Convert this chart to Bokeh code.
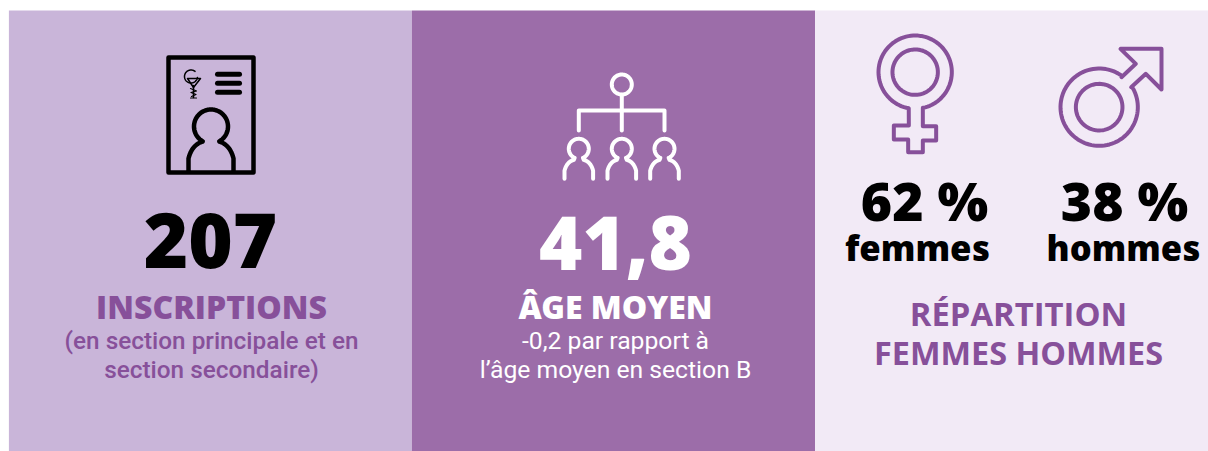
import numpy as np
from bokeh.plotting import figure
from bokeh.models import Range1d
from bokeh.core.properties import value
from bokeh.embed import file_html
from bokeh.resources import INLINE

BG = ["#C9B5D9", "#9C6DA9", "#F2EAF6"]
PURPLE = "#87509A"
HEAD = "Open Sans ExtraBold"
SUBHEAD = "Open Sans ExtraBold"
BODY = "Roboto Medium"

panel_left = [8.4, 411.4, 814.6]
panel_right = [411.4, 814.6, 1208]

big_values = ["207", "41,8"]
pct_values = ["62 %", "38 %"]
pct_labels = ["femmes", "hommes"]

p = figure(width=1208, height=451, output_backend="svg", toolbar_location=None,
           x_range=Range1d(0, 1208), y_range=Range1d(451, 0), min_border=0,
           background_fill_color="white", border_fill_color="white", outline_line_color=None)
p.axis.visible = False
p.grid.visible = False
p.quad(left=panel_left, right=panel_right, top=10, bottom=451, fill_color=BG, line_color=None)

def txt(x, y, s, size, color, font=BODY, bold=False):
    p.text([x], [y - 0.37*size], text=[s], text_font=value(font), text_font_size=f"{size}px",
           text_font_style="bold" if bold else "normal", text_color=color,
           text_align="center", text_baseline="alphabetic")

def path(xs, ys, color, w):
    p.line(list(xs), list(ys), line_color=color, line_width=w, line_cap="round", line_join="round")

def ring(cx, cy, r, color, w, a0=0.0, a1=2*np.pi):
    t = np.linspace(a0, a1, 90)
    path(cx + r*np.cos(t), cy + r*np.sin(t), color, w)

def person(cx, cy, r, nx, ny, sx, sy, by, color, w):
    a = np.arctan2(ny, nx)
    t = np.linspace(a, np.pi*3 - a, 70)
    hx = cx + r*np.cos(t); hy = cy + r*np.sin(t)
    u = np.linspace(0, 1, 20)
    qx = (1-u)**2*nx + 2*u*(1-u)*sx*0.85 + u*u*sx
    qy = (1-u)**2*ny + 2*u*(1-u)*(ny+(sy-ny)*0.2) + u*u*sy
    xs = np.r_[cx + sx, cx + qx[::-1], hx, cx - qx, cx - sx]
    ys = np.r_[cy + by, cy + qy[::-1], hy, cy + qy, cy + by]
    path(xs, ys, color, w)

# Panel 1 icon
K = "#000000"
path([168, 253, 253, 168, 168], [57, 57, 172, 172, 57], K, 4.5)
for yy in [73.7, 82.7, 91.7]:
    path([217, 239], [yy, yy], K, 5)
person(210.5, 126, 17, -8.3, 15, -22.5, 32, 45, K, 4.5)
# caduceus
ring(190.5, 76, 6.5, K, 1.5, 0.15, 2*np.pi-0.9)
path([187, 200, 193, 187], [78, 78, 87, 78], K, 1.5)
path([193, 193], [85, 97], K, 1.5)
path([190, 196, 190.5, 195.5, 191], [88, 90.5, 92, 94, 96], K, 1.2)
path([190, 196], [97.5, 97.5], K, 1.2)

# Panel 2 icon
W = "#FFFFFF"
ring(621.3, 84, 10, W, 4)
path([621.3, 621.3], [94.3, 130], W, 4)
path([578.3, 578.3, 664, 664], [130, 110, 110, 130], W, 4)
for cx in [578.3, 621.3, 664]:
    person(cx, 148.3, 10, -5, 11, -14.3, 22, 30, W, 4)

# Female icon
def zf(x, y): return 860 + np.array(x)/3, 20 + np.array(y)/3
cxf, cyf = zf(164, 155)
ring(cxf, cyf, 22.7, PURPLE, 4)
t = np.linspace(np.arctan2(107, 23), np.arctan2(107, -19) - 2*np.pi, 90)
ox = 164 + 110*np.cos(t); oy = 155 + 110*np.sin(t)
fx = np.r_[ox, [145,100,100,143,143,187,187,227,227,187,187]]
fy = np.r_[oy, [315,315,357,357,395,395,360,360,317,317,262]]
X, Y = zf(fx, fy)
path(X, Y, PURPLE, 4)

# Male icon
cxm, cym = zf(716, 260)
ring(cxm, cym, 23.3, PURPLE, 4)
a0 = np.arctan2(200-260, 812-716)
a1 = np.arctan2(170-260, 783-716) + 2*np.pi
t = np.linspace(a0, a1, 90)
mx = np.r_[716 + 116*np.cos(t), [783,826,780,903,903,856,812]]
my = np.r_[260 + 116*np.sin(t), [170,130,85,85,207,160,200]]
X, Y = zf(mx, my)
path(X, Y, PURPLE, 4)

# Texts
txt(210, 268, big_values[0], 76, "#000000", HEAD)
txt(211, 318, "INSCRIPTIONS", 32, PURPLE, SUBHEAD)
txt(211, 349, "(en section principale et en", 24.3, PURPLE)
txt(211, 378, "section secondaire)", 24.3, PURPLE)

txt(615, 270, big_values[1], 74, "#FFFFFF", HEAD)
txt(615, 318, "ÂGE MOYEN", 32, "#FFFFFF", SUBHEAD)
txt(615, 349, "-0,2 par rapport à", 24.7, "#FFFFFF", "Roboto")
txt(615, 378, "l’âge moyen en section B", 24.7, "#FFFFFF", "Roboto")

txt(924, 220, pct_values[0], 53.5, "#000000", HEAD)
txt(1124, 220, pct_values[1], 53.5, "#000000", HEAD)
txt(917, 260, pct_labels[0], 34.7, "#000000", HEAD)
txt(1123, 260, pct_labels[1], 34.5, "#000000", HEAD)
txt(1018, 325, "RÉPARTITION", 32.8, PURPLE, "Open Sans", True)
txt(1018, 363, "FEMMES HOMMES", 32.4, PURPLE, "Open Sans", True)

open("out.html", "w").write(file_html(p, INLINE))
